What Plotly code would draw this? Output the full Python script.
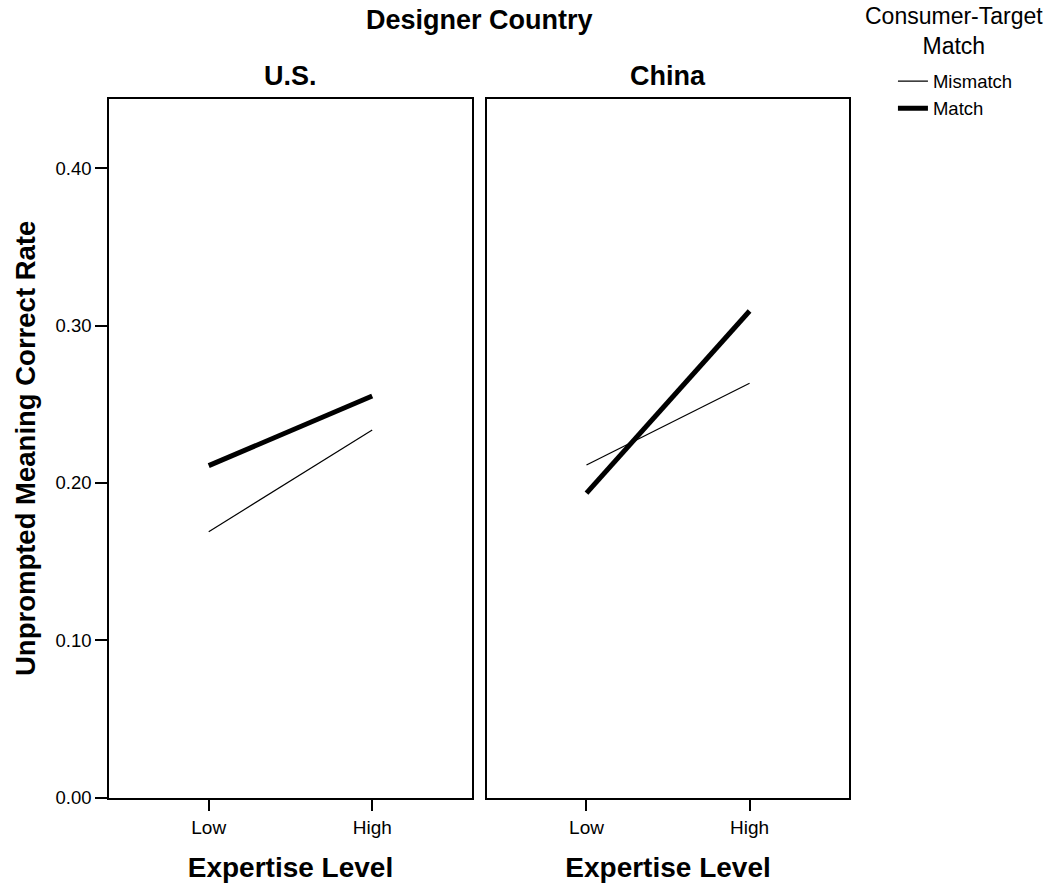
import plotly.graph_objects as go

levels = ["Low", "High"]
countries = ["U.S.", "China"]
mismatch = {"U.S.": [0.169, 0.2337], "China": [0.2114, 0.2634]}
match = {"U.S.": [0.211, 0.2553], "China": [0.1935, 0.3093]}
yticks = [0.0, 0.1, 0.2, 0.3, 0.4]

FONT = "Arial, Liberation Sans, sans-serif"
fig = go.Figure()

for i, c in enumerate(countries):
    xa = "x" if i == 0 else "x2"
    ya = "y" if i == 0 else "y2"
    fig.add_trace(go.Scatter(x=levels, y=mismatch[c], mode="lines", name="Mismatch",
                             line=dict(color="black", width=1.2), xaxis=xa, yaxis=ya,
                             showlegend=(i == 0), legendgroup="mm"))
    fig.add_trace(go.Scatter(x=levels, y=match[c], mode="lines", name="Match",
                             line=dict(color="black", width=5), xaxis=xa, yaxis=ya,
                             showlegend=(i == 0), legendgroup="m"))

xcommon = dict(type="category", categoryorder="array", categoryarray=levels,
               range=[-0.61, 1.61], showline=True, linecolor="black", linewidth=1.5,
               mirror=True, ticks="outside", ticklen=12, tickwidth=1.5, tickcolor="black",
               showgrid=False, zeroline=False, automargin=False,
               tickfont=dict(family=FONT, size=19, color="black"),
               title=dict(text="<b>Expertise Level</b>", font=dict(family=FONT, size=28, color="black"),
                          standoff=20))
ycommon = dict(range=[0, 0.444], showline=True, linecolor="black", linewidth=1.5, mirror=True,
               showgrid=False, zeroline=False, tickvals=yticks, automargin=False,
               ticktext=[f"{v:.2f}" for v in yticks])

fig.update_layout(
    width=1053, height=888,
    margin=dict(l=0, r=0, t=0, b=0, autoexpand=False),
    paper_bgcolor="white", plot_bgcolor="white",
    font=dict(family=FONT, color="black"),
    xaxis=dict(domain=[0.1035, 0.4482], anchor="y", **xcommon),
    xaxis2=dict(domain=[0.4625, 0.8063], anchor="y2", **xcommon),
    yaxis=dict(domain=[0.1017, 0.8885], anchor="x", ticks="outside", ticklen=12, tickwidth=1.5,
               tickcolor="black", tickfont=dict(family=FONT, size=18.5, color="black"),
               title=dict(text="<b>Unprompted Meaning Correct Rate</b>",
                          font=dict(family=FONT, size=27.5, color="black"), standoff=12),
               **ycommon),
    yaxis2=dict(domain=[0.1017, 0.8885], anchor="x2", ticks="", showticklabels=False, **ycommon),
    legend=dict(x=0.848, y=0.9295, xanchor="left", yanchor="top",
                font=dict(family=FONT, size=18.5, color="black"),
                tracegroupgap=0, itemwidth=30, bgcolor="rgba(0,0,0,0)"),
)

anns = [
    dict(text="<b>Designer Country</b>", x=479 / 1053, y=1 - 20 / 888),
    dict(text="<b>U.S.</b>", x=290 / 1053, y=1 - 76 / 888),
    dict(text="<b>China</b>", x=668 / 1053, y=1 - 76 / 888),
]
for a in anns:
    fig.add_annotation(text=a["text"], x=a["x"], y=a["y"], xref="paper", yref="paper",
                       xanchor="center", yanchor="middle", showarrow=False,
                       font=dict(family=FONT, size=27, color="black"))
fig.add_annotation(text="Consumer-Target<br>Match", x=954 / 1053, y=1 - 31 / 888, xref="paper",
                   yref="paper", xanchor="center", yanchor="middle", showarrow=False,
                   font=dict(family=FONT, size=23, color="black"))

fig.write_html("out.html")
